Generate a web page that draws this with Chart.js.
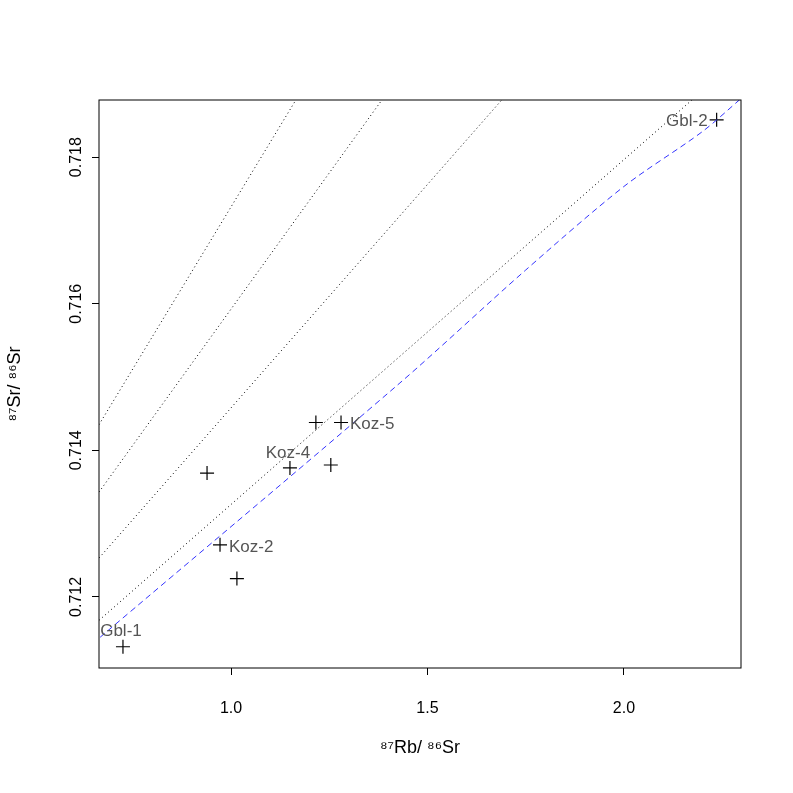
<!DOCTYPE html>
<html>
<head>
<script src="https://cdn.jsdelivr.net/npm/chart.js@4"></script>
<style>
  body { margin: 0; background: #fff; }
  #wrap { width: 793px; height: 793px; }
</style>
</head>
<body>
<div id="wrap"><canvas id="isoChart"></canvas></div>
<script>
// sample points (87Rb/86Sr, 87Sr/86Sr)
const rbSr = [0.725, 0.972, 1.015, 0.939, 1.150, 1.216, 1.280, 1.254, 2.236];
const srSr = [0.71132, 0.71271, 0.71225, 0.71369, 0.71376, 0.71438, 0.71438, 0.71380, 0.71851];
const sampleNames = ['Gbl-1', 'Koz-2', '', '', 'Koz-4', '', 'Koz-5', '', 'Gbl-2'];

// reference isochrons (dotted), start and end points
const refLines = [
    [[0.664, 0.71435], [1.165, 0.71878]],
    [[0.664, 0.71343], [1.384, 0.71878]],
    [[0.664, 0.71253], [1.689, 0.71878]],
    [[0.664, 0.71168], [2.173, 0.71878]]
];

// fitted line (blue dashed)
const fitX = [0.667, 1.430, 1.750, 2.000, 2.200, 2.298];
const fitY = [0.71145, 0.71492, 0.71646, 0.71760, 0.71835, 0.71880];

const xTicks = [1.0, 1.5, 2.0];
const yTicks = [0.712, 0.714, 0.716, 0.718];

document.addEventListener('DOMContentLoaded', function() {
    const datasets = [];
    refLines.forEach(l => {
        datasets.push({
            type: 'line',
            data: l.map(p => ({x: p[0], y: p[1]})),
            borderColor: '#000',
            borderWidth: 1,
            borderDash: [1, 3],
            pointRadius: 0
        });
    });
    datasets.push({
        type: 'line',
        data: fitX.map((x, i) => ({x: x, y: fitY[i]})),
        borderColor: '#3333ff',
        borderWidth: 1,
        borderDash: [6, 4],
        tension: 0.3,
        pointRadius: 0
    });
    datasets.push({
        type: 'scatter',
        data: rbSr.map((x, i) => ({x: x, y: srSr[i]})),
        pointStyle: 'cross',
        pointRadius: 7,
        borderColor: '#000',
        borderWidth: 1.2
    });

    // where the label sits relative to its point
    const labelPos = {'Gbl-1': 'topleft', 'Koz-2': 'right', 'Koz-4': 'topleft', 'Koz-5': 'right', 'Gbl-2': 'left'};
    const font = '"Liberation Sans", Arial, sans-serif';

    const extras = {
        id: 'extras',
        afterDatasetsDraw(chart) {
            const c = chart.ctx, a = chart.chartArea;
            const xs = chart.scales.x, ys = chart.scales.y;
            c.save();
            c.strokeStyle = '#000';
            c.lineWidth = 1;
            c.strokeRect(a.left, a.top, a.right - a.left, a.bottom - a.top);

            // y tick labels, rotated and centred on the tick
            c.fillStyle = '#000';
            c.font = '16px ' + font;
            c.textAlign = 'center';
            c.textBaseline = 'bottom';
            yTicks.forEach(v => {
                const py = ys.getPixelForValue(v);
                c.save();
                c.translate(a.left - 14, py);
                c.rotate(-Math.PI / 2);
                c.fillText(v.toFixed(3), 0, 0);
                c.restore();
            });

            c.font = '17px ' + font;
            c.fillStyle = '#555';
            c.textBaseline = 'middle';
            sampleNames.forEach((n, i) => {
                if (!n) return;
                const px = xs.getPixelForValue(rbSr[i]);
                const py = ys.getPixelForValue(srSr[i]);
                const p = labelPos[n];
                if (p === 'right') { c.textAlign = 'left'; c.fillText(n, px + 9, py + 2); }
                else if (p === 'left') { c.textAlign = 'right'; c.fillText(n, px - 9, py + 2); }
                else { c.textAlign = 'center'; c.fillText(n, px - 2, py - 15); }
            });
            c.restore();
        }
    };

    const ctx = document.getElementById('isoChart').getContext('2d');
    new Chart(ctx, {
        data: {datasets: datasets},
        options: {
            responsive: true,
            maintainAspectRatio: false,
            animation: false,
            layout: {padding: {top: 100, right: 52, left: 0, bottom: 30}},
            plugins: {legend: {display: false}, tooltip: {enabled: false}},
            scales: {
                x: {
                    type: 'linear',
                    min: 0.664, max: 2.298,
                    afterBuildTicks: s => { s.ticks = xTicks.map(v => ({value: v})); },
                    afterFit: s => { s.height = 95; },
                    grid: {drawOnChartArea: false, tickLength: 7, color: '#000'},
                    border: {display: false},
                    ticks: {color: '#000', font: {size: 16, family: font}, maxRotation: 0, padding: 24,
                            callback: v => v.toFixed(1)},
                    title: {display: true, text: '⁸⁷Rb/ ⁸⁶Sr', color: '#000',
                            font: {size: 18, family: font}, padding: {top: 8}}
                },
                y: {
                    type: 'linear',
                    min: 0.71103, max: 0.71878,
                    afterBuildTicks: s => { s.ticks = yTicks.map(v => ({value: v})); },
                    afterFit: s => { s.width = 99; },
                    grid: {drawOnChartArea: false, tickLength: 7, color: '#000'},
                    border: {display: false},
                    ticks: {color: 'rgba(0,0,0,0)', font: {size: 16, family: font},
                            minRotation: 90, maxRotation: 90, callback: v => v.toFixed(3)},
                    title: {display: true, text: '⁸⁷Sr/ ⁸⁶Sr', color: '#000',
                            font: {size: 18, family: font}, padding: {bottom: 8}}
                }
            }
        },
        plugins: [extras]
    });
});
</script>
</body>
</html>
